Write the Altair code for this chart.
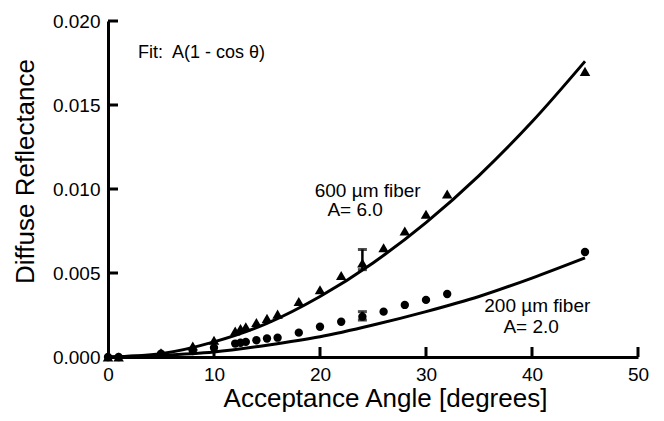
import altair as alt
import pandas as pd

# --- data ---
angles = [0, 1, 5, 8, 10, 12, 12.5, 13, 14, 15, 16, 18, 20, 22, 24, 26, 28, 30, 32, 45]
refl_600 = [0.0, 0.0, 0.00025, 0.00065, 0.0010, 0.00155, 0.0017, 0.0018, 0.00205, 0.0023,
            0.00255, 0.0033, 0.0040, 0.00485, 0.0056, 0.0065, 0.0075, 0.0085, 0.0097, 0.0170]
refl_200 = [0.0, 0.0, 0.0002, 0.00035, 0.00055, 0.0008, 0.00085, 0.0009, 0.0010, 0.0011,
            0.00115, 0.00145, 0.0018, 0.0021, 0.0024, 0.0027, 0.0031, 0.0034, 0.00375, 0.00625]

# error bars at 24 degrees
err_angle = [24, 24]
err_low = [0.0052, 0.0022]
err_high = [0.0064, 0.0027]

# fit curves read every 5 degrees
fit_angles = [0, 5, 10, 15, 20, 25, 30, 35, 40, 45]
fit_600 = [0.0, 0.0002, 0.0009, 0.0020, 0.0036, 0.0056, 0.0080, 0.0108, 0.0140, 0.0176]
fit_200 = [0.0, 0.0001, 0.0003, 0.0007, 0.0012, 0.0019, 0.0027, 0.0036, 0.0047, 0.0059]

x_ticks = [0, 10, 20, 30, 40, 50]
y_ticks = [0.000, 0.005, 0.010, 0.015, 0.020]

FONT = "Liberation Sans"

pts600 = pd.DataFrame({"angle": angles, "refl": refl_600})
pts200 = pd.DataFrame({"angle": angles, "refl": refl_200})
errs = pd.DataFrame({"angle": err_angle, "lo": err_low, "hi": err_high})
fits = pd.DataFrame({
    "angle": fit_angles * 2,
    "refl": fit_600 + fit_200,
    "series": ["600"] * len(fit_angles) + ["200"] * len(fit_angles),
})

xscale = alt.Scale(domain=[0, 50], nice=False, zero=False)
yscale = alt.Scale(domain=[0, 0.020], nice=False, zero=False)

x_enc = alt.X("angle:Q", scale=xscale,
              axis=alt.Axis(values=x_ticks, format="d", title="Acceptance Angle [degrees]",
                            titleX=277, titleAlign="center", titlePadding=1, labelPadding=8,
                            labelFlush=False))
y_enc = alt.Y("refl:Q", scale=yscale,
              axis=alt.Axis(values=y_ticks, format=".3f", title="Diffuse Reflectance",
                            titleX=-75, titleY=150, titleAlign="center",
                            titleBaseline="alphabetic", labelPadding=8, labelFlush=False))

lines = alt.Chart(fits).mark_line(color="black", strokeWidth=3, interpolate="monotone").encode(
    x=x_enc, y=y_enc, detail="series:N")

tri = alt.Chart(pts600).mark_point(shape="triangle-up", filled=True, color="black",
                                   size=110, opacity=1).encode(x="angle:Q", y="refl:Q")
circ = alt.Chart(pts200).mark_point(shape="circle", filled=True, color="black",
                                    size=70, opacity=1).encode(x="angle:Q", y="refl:Q")

err_rule = alt.Chart(errs).mark_rule(color="black", strokeWidth=2.5).encode(
    x="angle:Q", y="lo:Q", y2="hi:Q")
err_cap_hi = alt.Chart(errs).mark_tick(color="black", orient="horizontal", size=9,
                                       thickness=3).encode(x="angle:Q", y="hi:Q")
err_cap_lo = alt.Chart(errs).mark_tick(color="black", orient="horizontal", size=9,
                                       thickness=3).encode(x="angle:Q", y="lo:Q")

ytick_df = pd.DataFrame({"refl": y_ticks[1:]})
xtick_df = pd.DataFrame({"angle": x_ticks[1:]})
yticks_m = alt.Chart(ytick_df).mark_rule(color="black", strokeWidth=3).encode(
    y="refl:Q", x=alt.value(0), x2=alt.value(10))
xticks_m = alt.Chart(xtick_df).mark_rule(color="black", strokeWidth=3).encode(
    x="angle:Q", y=alt.value(336), y2=alt.value(326))

labels = pd.DataFrame({
    "angle": [2.83, 19.5, 20.7, 35.5, 37.3],
    "refl": [0.0178, 0.00955, 0.0084, 0.0027, 0.0014],
    "text": ["Fit:\u00a0 A(1 - cos θ)", "600 µm fiber", "A= 6.0", "200 µm fiber", "A= 2.0"],
    "size": [18, 19, 19, 19, 19],
})
texts = alt.Chart(labels).mark_text(align="left", baseline="alphabetic", font=FONT,
                                    color="black").encode(
    x="angle:Q", y="refl:Q", text="text:N",
    size=alt.Size("size:Q", scale=None, legend=None))

chart = alt.layer(lines, err_rule, err_cap_hi, err_cap_lo, tri, circ, yticks_m, xticks_m, texts).properties(
    width=530, height=336,
    autosize=alt.AutoSizeParams(type="none"),
    padding={"left": 100, "top": 13, "right": 18, "bottom": 56},
).configure_view(stroke=None).configure_axis(
    domainColor="black", domainWidth=3, ticks=False, grid=False,
    labelFont=FONT, labelFontSize=19, labelColor="black",
    titleFont=FONT, titleFontSize=26, titleFontWeight="normal", titleColor="black",
)

chart.save("out.html", embed_options={"renderer": "svg", "actions": False})
